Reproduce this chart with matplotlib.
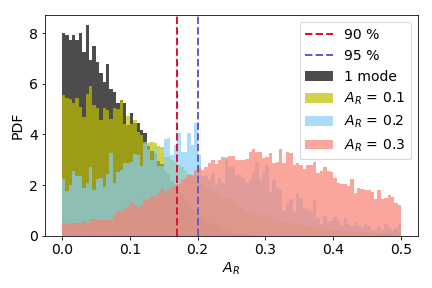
import numpy as np
import matplotlib
matplotlib.use("Agg")
import matplotlib.pyplot as plt

plt.rcParams['font.family'] = ['DejaVu Sans']
plt.rcParams['font.size'] = 14

bin_edges = np.linspace(0.0, 0.5, 101)

one_mode = [8.0, 7.94, 7.72, 7.91, 7.72, 8.0, 7.26, 8.3, 6.93, 7.48,
            6.86, 6.43, 6.07, 6.8, 5.79, 5.68, 5.24, 5.35, 5.24, 4.37,
            4.84, 4.45, 4.45, 4.17, 4.06,
            3.55, 3.35, 3.25, 2.95, 2.85, 2.55, 2.45, 2.15, 2.05, 1.75,
            1.65, 1.35, 1.3, 1.05, 1.0, 0.8, 0.75, 0.6, 0.5, 0.45,
            0.35, 0.3, 0.25, 0.2, 0.18, 0.12, 0.1, 0.08, 0.06, 0.05,
            0.04, 0.03, 0.02, 0.02, 0.01, 0.01] + [0.0] * 39

ar_01 = [5.55, 5.42, 5.39, 5.25, 5.42, 5.07, 4.7, 5.59, 5.9, 5.16,
         5.05, 4.57, 5.05, 4.96, 4.63, 5.03, 4.99, 5.35, 4.41, 4.72,
         4.41, 4.59, 4.1, 3.98, 3.62, 3.65, 3.71, 3.65, 3.54, 3.5,
         3.12, 3.1,
         3.0, 2.9, 2.8, 2.7, 2.6, 2.45, 2.35, 2.2, 2.1, 2.0, 1.9, 1.85,
         1.75, 1.7, 1.6, 1.55, 1.5,
         1.45, 1.4, 1.2, 1.1, 1.05, 0.95, 0.9, 1.0, 0.85, 0.85, 0.8,
         0.85, 0.75, 0.6,
         0.65, 0.6, 0.55, 0.55, 0.5, 0.5, 0.45, 0.45, 0.4, 0.4,
         0.35, 0.35, 0.3, 0.3, 0.3, 0.25, 0.25, 0.25, 0.2, 0.22,
         0.2, 0.18, 0.2, 0.15, 0.18, 0.15, 0.15, 0.12, 0.15, 0.12,
         0.1, 0.12, 0.1, 0.1, 0.08, 0.25, 0.08]

ar_02 = [2.23, 1.77, 2.0, 2.56, 2.38, 2.38, 1.88, 2.07, 2.73, 1.81,
         2.23, 2.27, 1.94, 2.44, 3.26,
         2.07, 2.53, 2.6, 2.86, 2.86, 2.9, 3.22, 3.2, 2.76, 3.71,
         3.4, 3.0, 3.39, 2.76, 2.76, 3.82, 3.85, 3.19, 3.58, 4.07,
         3.32, 3.32, 4.07, 3.58, 4.46, 3.2,
         2.36, 2.4, 2.2, 2.5, 2.0, 2.3, 2.1, 3.1, 2.7, 2.7,
         2.4, 2.4, 2.3, 2.1, 2.2, 2.5, 2.9, 2.2, 2.5, 2.8, 1.75, 2.2,
         1.9, 1.8, 1.0, 1.3, 1.45, 0.95, 1.7, 1.5, 1.1, 1.05,
         1.0, 1.4, 0.7, 0.45, 0.8, 0.55, 0.6,
         0.75, 0.6, 0.4, 0.7, 0.45, 0.4, 0.55, 0.4, 0.35, 0.45,
         0.4, 0.25, 0.25, 0.35, 0.25, 0.45, 0.35, 0.25, 0.3, 0.45]

ar_03 = [0.5, 0.45, 0.5, 0.5, 0.5, 0.5, 0.6, 0.5, 0.68, 0.65,
         0.68, 0.62, 0.62, 0.62, 0.62,
         0.83, 1.0, 0.93, 1.05, 1.15, 1.33, 1.2, 1.15, 1.2, 1.44,
         1.44, 1.57, 1.55, 1.68, 1.85, 1.68, 1.85,
         1.94, 1.96, 2.05, 2.2, 2.28, 2.4, 2.4, 2.6, 2.7, 2.6,
         2.73, 2.89, 3.0, 2.85, 3.0,
         3.12, 3.05, 3.15, 3.15, 3.0, 3.0, 3.0, 3.02, 3.3, 3.42,
         3.3, 3.3, 3.07, 3.12, 3.25, 2.87, 2.93,
         3.42, 2.87, 3.3, 3.25, 2.8, 2.87, 2.8, 2.65, 2.8, 2.8,
         2.93, 2.47, 2.54, 2.73, 2.54, 2.53,
         2.27, 2.1, 2.05, 2.05, 1.97, 2.25, 1.7, 1.9, 1.85, 1.8,
         1.8, 1.73, 1.45, 1.8, 1.45, 1.5, 1.6, 1.55, 1.3, 1.2]

series = [(one_mode, 'k', '1 mode'),
          (ar_01, 'y', '$A_R$ = 0.1'),
          (ar_02, 'lightskyblue', '$A_R$ = 0.2'),
          (ar_03, 'salmon', '$A_R$ = 0.3')]

q90 = 0.17
q95 = 0.20

fig, ax = plt.subplots(figsize=(6, 4), dpi=72)
fig.subplots_adjust(left=0.104, right=0.968, top=0.948, bottom=0.181)

centers = 0.5 * (bin_edges[:-1] + bin_edges[1:])
hist_handles = []
for vals, col, lab in series:
    _, _, patches = ax.hist(centers, bins=bin_edges, weights=vals, color=col,
                            alpha=0.7, label=lab)
    hist_handles.append(patches[0])

l90 = ax.axvline(q90, color='crimson', ls='--', lw=2, label='90 %')
l95 = ax.axvline(q95, color='slateblue', ls='--', lw=2, label='95 %')

ax.set_xlabel('$A_R$')
ax.set_ylabel('PDF')
ax.set_xticks([0.0, 0.1, 0.2, 0.3, 0.4, 0.5])
ax.set_yticks([0, 2, 4, 6, 8])
handles = [l90, l95] + hist_handles
labels = ['90 %', '95 %'] + [s[2] for s in series]
ax.legend(handles, labels, loc='upper right')

fig.savefig('out.png', dpi=72)
